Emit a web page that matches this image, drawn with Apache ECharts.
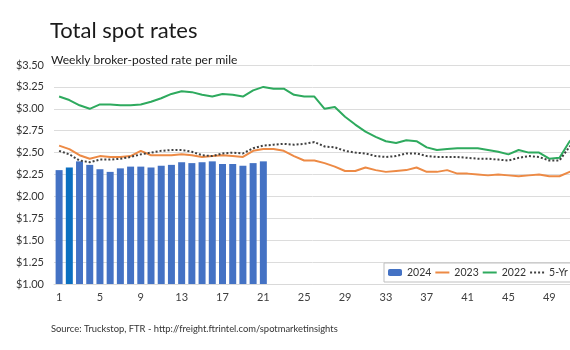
<!DOCTYPE html>
<html>
<head>
<meta charset="utf-8">
<script src="https://cdn.jsdelivr.net/npm/echarts@6/dist/echarts.min.js"></script>
<style>html,body{margin:0;padding:0;background:#fff;}#c{width:570px;height:350px;}</style>
</head>
<body>
<div id="c"></div>
<script>
var weeks = ['1','2','3','4','5','6','7','8','9','10','11','12','13','14','15','16','17','18','19','20','21','22','23','24','25','26','27','28','29','30','31','32','33','34','35','36','37','38','39','40','41','42','43','44','45','46','47','48','49','50','51','52'];
var yTickValues = [1.00,1.25,1.50,1.75,2.00,2.25,2.50,2.75,3.00,3.25,3.50];
var rates2024 = [2.30,2.33,2.40,2.36,2.31,2.28,2.32,2.34,2.34,2.33,2.35,2.36,2.39,2.38,2.39,2.40,2.37,2.37,2.35,2.38,2.40];
var rates2023 = [2.58,2.54,2.47,2.43,2.46,2.45,2.45,2.46,2.52,2.47,2.47,2.47,2.48,2.47,2.45,2.46,2.47,2.46,2.45,2.52,2.54,2.54,2.52,2.46,2.41,2.41,2.38,2.34,2.29,2.29,2.33,2.30,2.28,2.29,2.30,2.33,2.28,2.28,2.30,2.26,2.26,2.25,2.24,2.25,2.24,2.23,2.24,2.25,2.23,2.23,2.28,2.32];
var rates2022 = [3.14,3.10,3.04,3.00,3.05,3.05,3.04,3.04,3.05,3.08,3.12,3.17,3.20,3.19,3.16,3.14,3.17,3.16,3.14,3.21,3.25,3.23,3.23,3.16,3.14,3.14,3.00,3.02,2.91,2.82,2.74,2.68,2.63,2.61,2.64,2.63,2.56,2.53,2.54,2.55,2.55,2.55,2.53,2.51,2.48,2.53,2.50,2.50,2.43,2.44,2.63,2.72];
var avg5yr = [2.52,2.48,2.41,2.39,2.42,2.42,2.43,2.45,2.48,2.50,2.52,2.53,2.53,2.51,2.47,2.46,2.49,2.50,2.49,2.55,2.58,2.59,2.60,2.59,2.60,2.62,2.57,2.56,2.52,2.50,2.49,2.46,2.45,2.46,2.49,2.49,2.46,2.45,2.45,2.45,2.44,2.43,2.43,2.42,2.41,2.44,2.46,2.45,2.41,2.41,2.57,2.63];
var highlightWeekIndex = 1;

var FONT = 'Lato';
var chart = echarts.init(document.getElementById('c'));
var barData = rates2024.map(function (v, i) {
  return i === highlightWeekIndex ? { value: v, itemStyle: { color: '#0B6FC0' } } : v;
});
chart.setOption({
  animation: false,
  title: [
    { text: 'Total spot rates', left: 45, top: 15, textStyle: { fontFamily: FONT, fontSize: 22, fontWeight: 'normal', color: '#1a1a1a' } },
    { text: 'Weekly broker-posted rate per mile', left: 46, top: 49, textStyle: { fontFamily: FONT, fontSize: 12, fontWeight: 'normal', color: '#1a1a1a' } },
    { text: 'Source: Truckstop, FTR - http://freight.ftrintel.com/spotmarketinsights', left: 46, top: 319, textStyle: { fontFamily: FONT, fontSize: 9.4, fontWeight: 'normal', color: '#333' } }
  ],
  legend: {
    orient: 'horizontal', left: 384, top: 263, width: 400,
    itemWidth: 14, itemHeight: 7, itemGap: 3,
    padding: [4, 6, 4, 4],
    borderColor: '#bfbfbf', borderWidth: 1, backgroundColor: '#fff',
    textStyle: { fontFamily: FONT, fontSize: 10.5, color: '#333' },
    data: [
      { name: '2024' },
      { name: '2023', itemStyle: { opacity: 0 } },
      { name: '2022', itemStyle: { opacity: 0 } },
      { name: '5-Yr Avg', itemStyle: { opacity: 0 } }
    ]
  },
  grid: { left: 54, top: 65, width: 531, height: 219, containLabel: false, outerBoundsMode: 'none' },
  xAxis: {
    type: 'category', data: weeks, boundaryGap: true,
    axisTick: { show: false },
    axisLine: { lineStyle: { color: '#d9d9d9' } },
    axisLabel: { interval: 3, margin: 8, fontFamily: FONT, fontSize: 11, color: '#404040' }
  },
  yAxis: {
    type: 'value', min: yTickValues[0], max: yTickValues[yTickValues.length - 1], interval: 0.25,
    axisLine: { show: false }, axisTick: { show: false },
    splitLine: { lineStyle: { color: '#dcdcdc' } },
    axisLabel: { margin: 10, fontFamily: FONT, fontSize: 11, color: '#333', formatter: function (v) { return '$' + v.toFixed(2); } }
  },
  series: [
    { name: '2024', type: 'bar', data: barData, barWidth: 7, itemStyle: { color: '#4472C4' } },
    { name: '2023', type: 'line', data: rates2023, symbol: 'none', lineStyle: { color: '#ED8A45', width: 2 }, itemStyle: { color: '#ED8A45' } },
    { name: '2022', type: 'line', data: rates2022, symbol: 'none', lineStyle: { color: '#2EAA5E', width: 2 }, itemStyle: { color: '#2EAA5E' } },
    { name: '5-Yr Avg', type: 'line', data: avg5yr, symbol: 'none', lineStyle: { color: '#404040', width: 2, type: 'dotted' }, itemStyle: { color: '#404040' } }
  ]
});
</script>
</body>
</html>
